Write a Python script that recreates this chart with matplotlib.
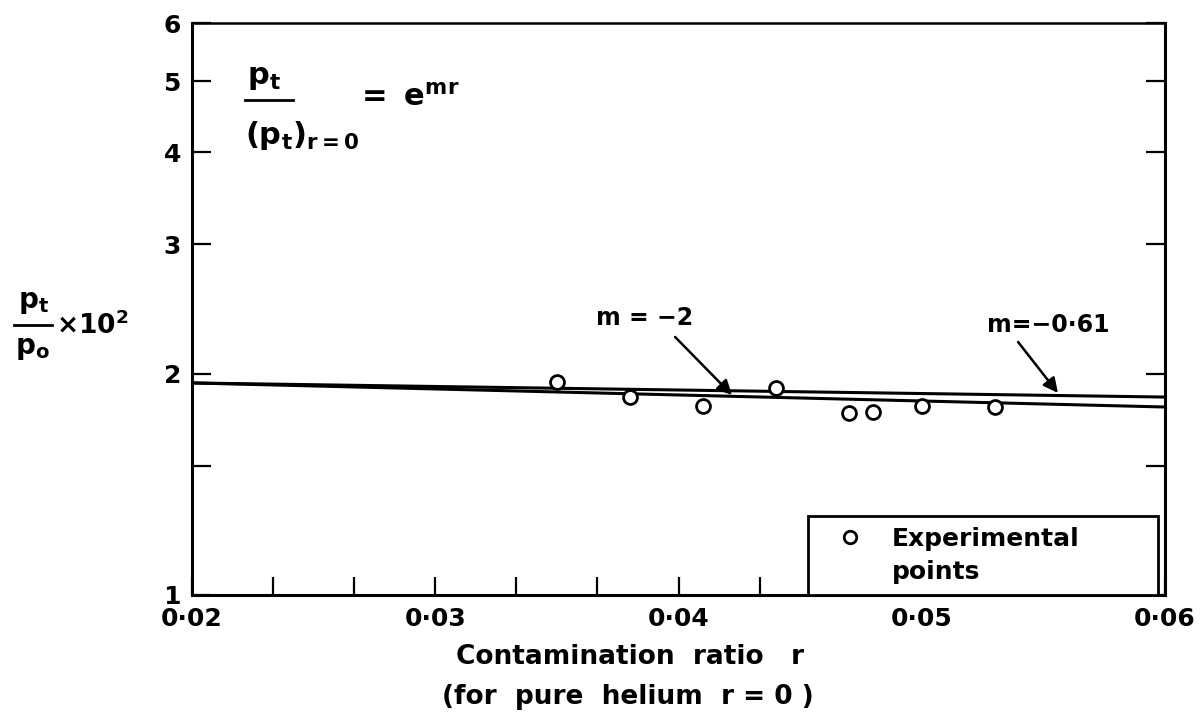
import numpy as np
import matplotlib
matplotlib.use("Agg")
import matplotlib.pyplot as plt
from matplotlib.lines import Line2D
from matplotlib.ticker import NullLocator

# datos
r_exp = [0.035, 0.038, 0.041, 0.044, 0.047, 0.048, 0.050, 0.053]
pt_exp = [1.95, 1.86, 1.81, 1.91, 1.77, 1.775, 1.81, 1.80]

# rectas ajustadas (extremos en r = 0.02 y r = 0.06)
r_line = [0.02, 0.06]
pt_m061 = [1.943, 1.859]
pt_m2 = [1.943, 1.802]

x_ticks = [0.02, 0.03, 0.04, 0.05, 0.06]
x_labels = ["0·02", "0·03", "0·04", "0·05", "0·06"]
y_ticks = [1, 1.5, 2, 3, 4, 5, 6]
y_labels = ["1", "", "2", "3", "4", "5", "6"]

plt.rcParams["font.family"] = "DejaVu Sans"
plt.rcParams["font.weight"] = "bold"
plt.rcParams["mathtext.fontset"] = "dejavusans"
plt.rcParams["mathtext.default"] = "bf"

W, H = 1204, 714
fig = plt.figure(figsize=(W / 100, H / 100), dpi=100)
ax = fig.add_axes([192 / W, 1 - 595 / H, (1165 - 192) / W, (595 - 23) / H])

# rectas
ax.plot(r_line, pt_m061, color="black", lw=2.2)
ax.plot(r_line, pt_m2, color="black", lw=2.2)

# puntos experimentales
ax.plot(r_exp, pt_exp, "o", mfc="white", mec="black", ms=10, mew=2, zorder=3)

ax.set_yscale("log")
ax.set_xlim(0.02, 0.06)
ax.set_ylim(1, 6)
ax.set_yticks(y_ticks, y_labels)
ax.yaxis.set_minor_locator(NullLocator())
ax.set_xticks(x_ticks, x_labels)
ax.set_xticks(np.linspace(0.02, 0.06, 13), minor=True)

ax.tick_params(axis="y", which="both", direction="in", length=14, width=1.6,
               right=True, labelsize=18, pad=8)
ax.tick_params(axis="x", which="both", direction="in", length=13, width=1.6,
               top=False, labelsize=18, pad=9)
for s in ax.spines.values():
    s.set_linewidth(2.2)
ax.spines["top"].set_linewidth(1.8)

# flechas y etiquetas de m
ax.text(0.0386, 2.38, "m = −2", fontsize=17, ha="center", va="center")
ax.annotate("", xy=(0.0422, 1.871), xytext=(0.03986, 2.244),
            arrowprops=dict(arrowstyle="-|>", color="black", lw=1.8,
                            mutation_scale=22, shrinkA=0, shrinkB=0))
ax.text(0.0552, 2.33, "m=−0·61", fontsize=17, ha="center", va="center")
ax.annotate("", xy=(0.0556, 1.883), xytext=(0.05396, 2.209),
            arrowprops=dict(arrowstyle="-|>", color="black", lw=1.8,
                            mutation_scale=22, shrinkA=0, shrinkB=0))

# leyenda
h1 = Line2D([], [], marker="o", ls="none", mfc="white", mec="black", ms=9, mew=2)
h2 = Line2D([], [], ls="none")
leg = ax.legend([h1, h2], ["Experimental", "points"], loc="lower left",
                bbox_to_anchor=(0.633, 0, 0.36, 0.14), mode="expand", borderaxespad=0,
                fancybox=False, edgecolor="black", framealpha=1,
                prop={"size": 18, "weight": "bold"}, borderpad=0.45,
                handlelength=2.5, handletextpad=0.4, labelspacing=0.35)
leg.get_frame().set_linewidth(2)

# ecuacion
fig.text(264 / W, 1 - 78 / H, r"$p_t$", fontsize=22, ha="center", va="center")
fig.add_artist(Line2D([245 / W, 293 / W], [1 - 100 / H, 1 - 100 / H], color="black", lw=2))
fig.text(245 / W, 1 - 135 / H, r"$(p_t)_{r=0}$", fontsize=22, ha="left", va="center")
fig.text(355 / W, 1 - 97 / H, r"$=\ e^{mr}$", fontsize=22, ha="left", va="center")

# eje y
fig.text(34 / W, 1 - 302 / H, r"$p_t$", fontsize=20, ha="center", va="center")
fig.add_artist(Line2D([14 / W, 52 / W], [1 - 325 / H, 1 - 325 / H], color="black", lw=2))
fig.text(32 / W, 1 - 348 / H, r"$p_o$", fontsize=20, ha="center", va="center")
fig.text(56 / W, 1 - 326 / H, r"$\times 10^2$", fontsize=19, ha="left", va="center")

# eje x
fig.text(630 / W, 1 - 657 / H, "Contamination  ratio   r", fontsize=19, ha="center", va="center")
fig.text(628 / W, 1 - 697 / H, "(for  pure  helium  r = 0 )", fontsize=19, ha="center", va="center")

fig.savefig("out.png", dpi=100)
